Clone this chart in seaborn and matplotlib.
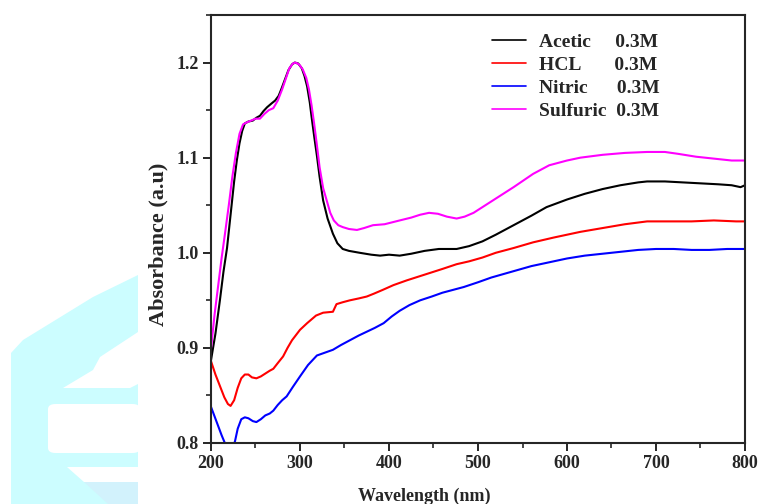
import numpy as np
import pandas as pd
import matplotlib
matplotlib.use("Agg")
import matplotlib.pyplot as plt
from matplotlib.patches import Polygon, FancyBboxPatch
from matplotlib.ticker import MultipleLocator, FormatStrFormatter
from matplotlib.font_manager import FontProperties
import seaborn as sns

# ---- data ----
acetic_wl = [200, 205, 210, 214, 218, 222, 226, 229, 232, 235, 238, 242, 247, 251, 255, 259, 263,
             268, 272, 276, 279, 283, 287, 291, 294, 298, 302, 305, 308, 311, 313, 316, 319, 322,
             326, 331, 337, 342, 348, 355, 367, 380, 390, 400, 412, 425, 440, 456, 476, 490, 505,
             520, 540, 560, 577, 600, 620, 640, 660, 680, 690, 710, 730, 750, 770, 785, 795, 800]
acetic_abs = [0.887, 0.915, 0.950, 0.980, 1.005, 1.040, 1.075, 1.097, 1.115, 1.128, 1.136, 1.138,
              1.139, 1.142, 1.144, 1.149, 1.153, 1.157, 1.160, 1.165, 1.172, 1.182, 1.192, 1.198,
              1.200, 1.199, 1.194, 1.186, 1.175, 1.158, 1.143, 1.122, 1.102, 1.080, 1.055, 1.036,
              1.020, 1.010, 1.004, 1.002, 1.000, 0.998, 0.997, 0.998, 0.997, 0.999, 1.002, 1.004,
              1.004, 1.007, 1.012, 1.019, 1.029, 1.039, 1.048, 1.056, 1.062, 1.067, 1.071, 1.074,
              1.075, 1.075, 1.074, 1.073, 1.072, 1.071, 1.069, 1.071]

hcl_wl = [200, 205, 210, 215, 219, 222, 226, 230, 234, 238, 242, 246, 251, 256, 261, 266, 270,
          275, 281, 286, 291, 300, 308, 318, 326, 337, 339, 341, 348, 356, 366, 375, 383, 393,
          405, 420, 440, 460, 476, 490, 505, 520, 540, 562, 585, 615, 640, 665, 690, 715, 740,
          765, 790, 800]
hcl_abs = [0.886, 0.872, 0.860, 0.848, 0.841, 0.839, 0.845, 0.858, 0.868, 0.872, 0.872, 0.869,
           0.868, 0.870, 0.873, 0.876, 0.878, 0.884, 0.891, 0.900, 0.908, 0.919, 0.926, 0.934,
           0.937, 0.938, 0.942, 0.946, 0.948, 0.950, 0.952, 0.954, 0.957, 0.961, 0.966, 0.971,
           0.977, 0.983, 0.988, 0.991, 0.995, 1.000, 1.005, 1.011, 1.016, 1.022, 1.026, 1.030,
           1.033, 1.033, 1.033, 1.034, 1.033, 1.033]

nitric_wl = [200, 204, 208, 212, 216, 220, 224, 227, 230, 234, 238, 242, 247, 251, 256, 261, 266,
             270, 275, 280, 285, 292, 300, 309, 319, 328, 337, 346, 356, 366, 375, 384, 394, 403,
             412, 423, 435, 448, 460, 472, 484, 500, 515, 530, 545, 560, 580, 600, 620, 640, 660,
             680, 700, 720, 740, 760, 780, 800]
nitric_abs = [0.838, 0.828, 0.818, 0.808, 0.799, 0.792, 0.794, 0.802, 0.815, 0.825, 0.827, 0.826,
              0.823, 0.822, 0.825, 0.829, 0.831, 0.834, 0.840, 0.845, 0.849, 0.859, 0.870, 0.882,
              0.892, 0.895, 0.898, 0.903, 0.908, 0.913, 0.917, 0.921, 0.926, 0.933, 0.939, 0.945,
              0.950, 0.954, 0.958, 0.961, 0.964, 0.969, 0.974, 0.978, 0.982, 0.986, 0.990, 0.994,
              0.997, 0.999, 1.001, 1.003, 1.004, 1.004, 1.003, 1.003, 1.004, 1.004]

sulfuric_wl = [200, 204, 208, 212, 216, 220, 224, 228, 232, 236, 240, 245, 250, 255, 260, 265, 270,
               275, 280, 284, 288, 292, 295, 299, 303, 307, 310, 313, 316, 319, 322, 326, 330, 334,
               338, 343, 348, 355, 364, 372, 382, 395, 412, 425, 435, 445, 455, 465, 476, 485, 495,
               505, 520, 540, 562, 580, 600, 615, 640, 665, 690, 710, 725, 745, 765, 785, 800]
sulfuric_abs = [0.899, 0.935, 0.965, 0.995, 1.022, 1.050, 1.080, 1.105, 1.125, 1.135, 1.137, 1.139,
                1.141, 1.141, 1.146, 1.150, 1.152, 1.160, 1.172, 1.183, 1.194, 1.199, 1.200, 1.198,
                1.193, 1.184, 1.172, 1.155, 1.135, 1.113, 1.090, 1.068, 1.055, 1.042, 1.034, 1.029,
                1.027, 1.025, 1.024, 1.026, 1.029, 1.030, 1.034, 1.037, 1.040, 1.042, 1.041, 1.038,
                1.036, 1.038, 1.042, 1.048, 1.057, 1.069, 1.083, 1.092, 1.097, 1.100, 1.103, 1.105,
                1.106, 1.106, 1.104, 1.101, 1.099, 1.097, 1.097]

acid_names = ["Acetic", "HCL", "Nitric", "Sulfuric"]
conc_label = "0.3M"
series_colors = ["black", "#ff0000", "#0000ff", "#ff00ff"]

sns.set_style("ticks")
plt.rcParams["font.family"] = ["Liberation Serif", "DejaVu Serif"]
plt.rcParams["font.weight"] = "bold"

fig = plt.figure(figsize=(7.6, 5.04), dpi=100)
renderer = fig.canvas.get_renderer()

# pad names with spaces so the concentration column lines up in the legend
leg_prop = FontProperties(family="Liberation Serif", weight="bold", size=14)
def text_w(s):
    return renderer.get_text_width_height_descent(s, leg_prop, ismath=False)[0]
space_w = (text_w("a" + " " * 10 + "a") - text_w("aa")) / 10
target = max(text_w(n) for n in acid_names) + 2.2 * space_w
series_names = [n + " " * max(1, int(round((target - text_w(n)) / space_w))) + conc_label
                for n in acid_names]

frames = []
for name, wl, ab in zip(series_names,
                        [acetic_wl, hcl_wl, nitric_wl, sulfuric_wl],
                        [acetic_abs, hcl_abs, nitric_abs, sulfuric_abs]):
    frames.append(pd.DataFrame({"wl": wl, "abs": ab, "series": name}))
df = pd.concat(frames, ignore_index=True)

# faint cyan watermark in the lower left corner (pixel coords -> figure fractions)
def px(pts):
    return [(x / 760, 1 - y / 504) for x, y in pts]

cyan = "#ccfdff"
fig.patches.append(Polygon(px([(11, 504), (11, 353), (23, 340), (93, 297), (138, 275), (138, 504)]),
                           closed=True, fc=cyan, ec="none", transform=fig.transFigure, zorder=0))
fig.patches.append(Polygon(px([(63, 388), (93, 370), (100, 357), (138, 332), (138, 384), (130, 388)]),
                           closed=True, fc="white", ec="none", transform=fig.transFigure, zorder=0))
fig.patches.append(FancyBboxPatch((48 / 760, 1 - 453 / 504), 92 / 760, 49 / 504,
                                  boxstyle="round,pad=0,rounding_size=0.01",
                                  fc="white", ec="none", transform=fig.transFigure, zorder=0))
fig.patches.append(Polygon(px([(67, 467), (138, 467), (138, 482), (84, 482)]),
                           closed=True, fc="white", ec="none", transform=fig.transFigure, zorder=0))
fig.patches.append(Polygon(px([(84, 482), (138, 482), (138, 504), (108, 504)]),
                           closed=True, fc="#d2f2fc", ec="none", transform=fig.transFigure, zorder=0))

ax = fig.add_axes([211 / 760, 1 - 443 / 504, 534 / 760, 428 / 504])
ax.set_facecolor("none")

sns.lineplot(data=df, x="wl", y="abs", hue="series", palette=series_colors,
             estimator=None, sort=True, linewidth=1.5, ax=ax)

ax.set_xlim(200, 800)
ax.set_ylim(0.8, 1.25)
ax.xaxis.set_major_locator(MultipleLocator(100))
ax.xaxis.set_minor_locator(MultipleLocator(50))
ax.yaxis.set_major_locator(MultipleLocator(0.1))
ax.yaxis.set_minor_locator(MultipleLocator(0.05))
ax.yaxis.set_major_formatter(FormatStrFormatter("%.1f"))
ax.tick_params(which="major", direction="out", length=6, width=1.4, labelsize=13, pad=3)
ax.tick_params(which="minor", direction="out", length=3.5, width=1.2)
for lab in ax.get_xticklabels() + ax.get_yticklabels():
    lab.set_fontweight("bold")
for sp in ax.spines.values():
    sp.set_linewidth(1.5)
    sp.set_visible(True)

ax.set_xlabel("Wavelength (nm)", fontsize=13, fontweight="bold")
ax.set_ylabel("Absorbance (a.u)", fontsize=16, fontweight="bold")
ax.xaxis.set_label_coords(0.40, -0.105)
ax.yaxis.set_label_coords(-0.099, 0.465)
ax.yaxis.label.set_va("center")

leg = ax.legend(loc="upper left", bbox_to_anchor=(0.505, 0.985), frameon=False,
                prop=leg_prop, handlelength=1.75, handletextpad=0.65,
                labelspacing=0.28, borderaxespad=0.2)
for line in leg.get_lines():
    line.set_linewidth(1.2)

fig.savefig("out.png", dpi=100)
